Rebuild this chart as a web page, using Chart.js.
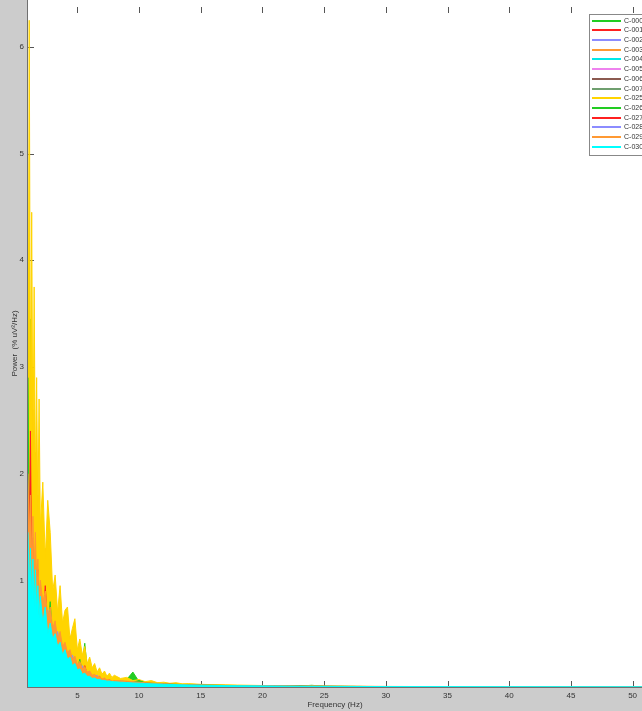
<!DOCTYPE html>
<html>
<head>
<meta charset="utf-8">
<script src="https://cdn.jsdelivr.net/npm/chart.js"></script>
<style>
  html, body { margin: 0; padding: 0; background: #cccccc; }
  canvas { display: block; }
</style>
</head>
<body>
<canvas id="myChart" width="642" height="711"></canvas>
<script>
// frequency bins (Hz) shared by every channel
var freqs = [1.0,1.1,1.2,1.3,1.4,1.5,1.6,1.7,1.8,1.9,2.0,
  2.2,2.4,2.6,2.8,3.0,3.2,3.4,3.6,3.8,4.0,
  4.2,4.4,4.6,4.8,5.0,5.2,5.4,5.6,5.8,6.0,
  6.2,6.4,6.6,6.8,7.0,7.2,7.4,7.6,7.8,8.0,
  8.5,9,9.5,10,10.5,11,11.5,12,12.5,13,13.5,14,
  15,16,17,18,19,20,21,22,23,24,25,
  30,40,50.8];

var xTicks = [5,10,15,20,25,30,35,40,45,50];
var yTicks = [1,2,3,4,5,6];

// power per channel
var c000 = [3.8,2.2,3.45,1.8,2.4,1.5,1.9,1.2,1.6,1.1,1.35,
  0.95,1.15,0.8,0.95,0.65,0.8,0.55,0.62,0.45,0.5,
  0.38,0.42,0.3,0.34,0.25,0.28,0.22,0.41,0.17,0.2,
  0.14,0.16,0.11,0.13,0.09,0.11,0.08,0.09,0.07,0.08,
  0.06,0.07,0.14,0.05,0.045,0.04,0.035,0.03,0.028,0.025,0.022,0.02,
  0.018,0.016,0.014,0.012,0.011,0.01,0.009,0.012,0.008,0.016,0.006,
  0.004,0.003,0.002];
var c001 = [1.9,1.4,2.2,2.85,1.6,2.1,1.3,1.7,1.1,1.4,1.0,
  1.2,0.85,1.0,0.7,0.8,0.55,0.65,0.45,0.5,0.36,
  0.42,0.3,0.33,0.24,0.27,0.19,0.22,0.15,0.17,0.12,
  0.14,0.1,0.11,0.08,0.09,0.07,0.08,0.06,0.07,0.055,
  0.06,0.045,0.05,0.04,0.035,0.038,0.03,0.028,0.025,0.022,0.02,0.018,
  0.016,0.014,0.013,0.012,0.01,0.009,0.008,0.007,0.007,0.006,0.005,
  0.004,0.003,0.002];
var c002 = [1.7,1.2,1.5,1.0,1.3,0.9,1.15,0.8,1.0,0.97,0.75,
  0.85,0.6,0.7,0.5,0.62,0.42,0.5,0.35,0.4,0.28,
  0.45,0.24,0.28,0.2,0.23,0.16,0.18,0.13,0.15,0.11,
  0.12,0.09,0.1,0.08,0.085,0.07,0.075,0.06,0.065,0.05,
  0.055,0.045,0.05,0.04,0.036,0.033,0.03,0.027,0.025,0.022,0.02,0.018,
  0.016,0.014,0.012,0.011,0.01,0.009,0.008,0.007,0.006,0.006,0.005,
  0.003,0.002,0.002];
var c003 = [2.3,1.8,2.0,1.5,2.6,1.7,2.2,1.4,1.8,1.2,1.5,
  1.1,1.3,0.9,1.05,0.75,0.85,0.6,0.7,0.5,0.58,
  0.42,0.48,0.35,0.4,0.28,0.32,0.23,0.26,0.18,0.21,
  0.15,0.17,0.12,0.14,0.1,0.12,0.09,0.1,0.075,0.085,
  0.07,0.06,0.055,0.05,0.045,0.04,0.036,0.033,0.03,0.027,0.025,0.022,
  0.02,0.018,0.016,0.014,0.013,0.012,0.011,0.01,0.009,0.008,0.007,
  0.005,0.003,0.002];
var c004 = [2.25,1.6,1.9,1.3,1.6,1.1,1.35,0.95,1.15,0.85,1.0,
  0.75,0.85,0.6,0.7,0.5,0.55,0.42,0.46,0.35,0.38,
  0.28,0.31,0.23,0.25,0.18,0.2,0.15,0.16,0.12,0.13,
  0.1,0.11,0.085,0.09,0.07,0.075,0.06,0.065,0.055,0.058,
  0.05,0.045,0.042,0.038,0.035,0.032,0.03,0.027,0.025,0.023,0.021,0.02,
  0.017,0.015,0.013,0.012,0.011,0.01,0.009,0.008,0.007,0.007,0.006,
  0.004,0.003,0.002];
var c005 = [1.3,1.0,1.2,0.85,1.05,0.8,0.95,0.7,0.85,0.6,0.8,
  0.55,0.95,0.5,0.6,0.4,0.5,0.35,0.42,0.3,0.34,
  0.25,0.28,0.2,0.23,0.16,0.19,0.13,0.15,0.11,0.12,
  0.09,0.1,0.08,0.085,0.065,0.07,0.055,0.06,0.05,0.052,
  0.045,0.05,0.04,0.06,0.035,0.03,0.028,0.025,0.023,0.02,0.019,0.017,
  0.015,0.013,0.012,0.011,0.01,0.009,0.008,0.007,0.006,0.006,0.005,
  0.003,0.002,0.002];
var c006 = [1.6,1.2,1.4,1.0,1.25,0.9,1.05,0.8,0.9,0.7,0.8,
  0.6,0.7,0.5,0.58,0.42,0.48,0.36,0.4,0.3,0.33,
  0.25,0.27,0.2,0.22,0.17,0.18,0.14,0.15,0.11,0.12,
  0.1,0.1,0.08,0.085,0.07,0.072,0.06,0.062,0.05,0.052,
  0.045,0.042,0.038,0.035,0.032,0.03,0.027,0.025,0.023,0.021,0.019,0.018,
  0.015,0.013,0.012,0.011,0.01,0.009,0.008,0.007,0.006,0.006,0.005,
  0.003,0.002,0.002];
var c007 = [1.8,1.3,1.55,1.1,1.35,0.95,1.1,0.85,0.95,0.72,0.82,
  0.62,0.72,0.52,0.6,0.44,0.5,0.37,0.42,0.32,0.35,
  0.26,0.29,0.21,0.24,0.18,0.19,0.15,0.16,0.12,0.13,
  0.1,0.11,0.085,0.09,0.07,0.075,0.06,0.065,0.052,0.055,
  0.047,0.043,0.04,0.036,0.033,0.03,0.028,0.026,0.024,0.022,0.02,0.018,
  0.016,0.014,0.012,0.011,0.01,0.009,0.008,0.007,0.007,0.006,0.005,
  0.004,0.003,0.002];
var c025 = [2.2,6.25,2.6,4.45,2.1,3.75,1.9,2.9,1.6,2.7,1.5,
  1.92,1.2,1.75,1.45,0.9,1.05,0.7,0.95,0.6,0.72,
  0.75,0.45,0.55,0.64,0.35,0.45,0.3,0.38,0.22,0.28,
  0.18,0.22,0.14,0.18,0.12,0.15,0.1,0.13,0.09,0.11,
  0.08,0.09,0.06,0.07,0.05,0.06,0.04,0.045,0.035,0.04,0.03,0.032,
  0.025,0.022,0.02,0.018,0.016,0.014,0.012,0.011,0.01,0.012,0.008,
  0.004,0.003,0.002];
var c026 = [2.9,1.3,1.5,1.0,1.3,0.85,1.1,0.8,1.0,0.65,0.8,
  0.6,0.7,0.5,0.8,0.42,0.48,0.35,0.4,0.3,0.33,
  0.25,0.27,0.2,0.22,0.16,0.26,0.14,0.15,0.11,0.12,
  0.09,0.1,0.08,0.085,0.065,0.07,0.055,0.06,0.05,0.052,
  0.055,0.05,0.045,0.06,0.04,0.035,0.032,0.03,0.027,0.025,0.022,0.02,
  0.018,0.016,0.014,0.012,0.011,0.01,0.009,0.008,0.012,0.007,0.006,
  0.004,0.003,0.002];
var c027 = [1.7,1.2,2.4,1.0,1.4,0.9,1.2,0.85,1.1,0.7,0.85,
  0.6,0.95,0.55,0.6,0.45,0.5,0.4,0.45,0.3,0.35,
  0.26,0.3,0.22,0.24,0.18,0.2,0.15,0.2,0.12,0.13,
  0.1,0.11,0.08,0.1,0.07,0.075,0.06,0.07,0.05,0.055,
  0.05,0.048,0.042,0.04,0.036,0.033,0.03,0.027,0.025,0.022,0.02,0.018,
  0.016,0.014,0.013,0.011,0.01,0.009,0.008,0.007,0.007,0.006,0.005,
  0.004,0.003,0.002];
var c028 = [1.5,1.1,1.3,0.9,1.15,0.8,1.0,0.72,0.88,0.62,0.75,
  0.55,0.65,0.72,0.54,0.4,0.45,0.52,0.37,0.28,0.31,
  0.23,0.26,0.3,0.21,0.16,0.17,0.2,0.14,0.1,0.11,
  0.09,0.095,0.11,0.08,0.065,0.068,0.055,0.058,0.048,0.05,
  0.043,0.04,0.036,0.033,0.03,0.028,0.026,0.024,0.022,0.02,0.018,0.017,
  0.015,0.013,0.012,0.011,0.01,0.009,0.008,0.007,0.006,0.006,0.005,
  0.003,0.002,0.002];
var c029 = [2.0,1.4,1.8,1.2,1.6,1.1,1.45,0.95,1.2,0.85,1.0,
  0.8,0.9,0.65,0.75,0.55,0.62,0.45,0.52,0.38,0.42,
  0.32,0.35,0.26,0.29,0.21,0.24,0.17,0.19,0.14,0.15,
  0.11,0.12,0.095,0.1,0.075,0.085,0.065,0.07,0.055,0.06,
  0.06,0.055,0.05,0.045,0.04,0.037,0.034,0.03,0.028,0.025,0.023,0.021,
  0.019,0.017,0.015,0.013,0.012,0.011,0.01,0.009,0.008,0.008,0.007,
  0.005,0.003,0.002];
var c030 = [1.45,0.9,1.3,0.8,1.2,0.75,1.1,0.7,0.95,0.65,0.85,
  0.6,0.75,0.5,0.6,0.45,0.5,0.38,0.42,0.3,0.35,
  0.26,0.28,0.2,0.22,0.16,0.17,0.12,0.13,0.1,0.1,
  0.08,0.085,0.07,0.072,0.06,0.062,0.055,0.056,0.05,0.05,
  0.045,0.042,0.038,0.036,0.033,0.03,0.028,0.026,0.024,0.022,0.02,0.019,
  0.017,0.015,0.013,0.012,0.011,0.01,0.009,0.008,0.007,0.007,0.006,
  0.004,0.003,0.002];

var names = ['C-000','C-001','C-002','C-003','C-004','C-005','C-006','C-007',
  'C-025','C-026','C-027','C-028','C-029','C-030'];
var series = [c000,c001,c002,c003,c004,c005,c006,c007,c025,c026,c027,c028,c029,c030];
var colors = ['#22cc22','#ff2020','#8c8cff','#ff9933','#00e8e8','#ee82ee','#8b5a50','#6f9f6f',
  '#ffd400','#22cc22','#ff2020','#8c8cff','#ff9933','#00ffff'];

var FONT = 'Liberation Sans';

// build datasets, last channel plotted on top (like matlab)
// the dense spectra look solid in the original, so each one is filled down to 0
var datasets = [];
for (var i = 0; i < names.length; i++) {
    var pts = [];
    for (var j = 0; j < freqs.length; j++) {
        pts.push({ x: freqs[j], y: series[i][j] });
    }
    datasets.push({
        label: names[i],
        data: pts,
        borderColor: colors[i],
        backgroundColor: colors[i],
        borderWidth: 1,
        pointRadius: 0,
        pointHoverRadius: 0,
        tension: 0,
        fill: 'origin',
        order: names.length - i
    });
}

// no extra space around the axes
function noPad(s) {
    s.paddingTop = 0;
    s.paddingBottom = 0;
    s.paddingLeft = 0;
    s.paddingRight = 0;
}

// gray figure background, axes and ticks under the data, legend box on top
var matlabLook = {
    id: 'matlabLook',
    beforeDraw: function(chart) {
        var ctx = chart.ctx, a = chart.chartArea;
        ctx.save();
        ctx.fillStyle = '#cccccc';
        ctx.fillRect(0, 0, chart.width, chart.height);
        ctx.fillStyle = '#ffffff';
        ctx.fillRect(a.left, a.top, a.right - a.left, a.bottom - a.top);
        ctx.restore();
    },
    beforeDatasetsDraw: function(chart) {
        var ctx = chart.ctx, a = chart.chartArea;
        var xs = chart.scales.x, ys = chart.scales.y;
        ctx.save();
        ctx.strokeStyle = '#707070';
        ctx.lineWidth = 1;
        ctx.beginPath();
        ctx.moveTo(a.left - 0.5, a.top);
        ctx.lineTo(a.left - 0.5, a.bottom + 1);
        ctx.moveTo(a.left, a.bottom + 0.5);
        ctx.lineTo(a.right, a.bottom + 0.5);
        ctx.stroke();

        ctx.strokeStyle = '#555555';
        ctx.beginPath();
        xTicks.forEach(function(v) {
            var px = Math.round(xs.getPixelForValue(v)) + 0.5;
            ctx.moveTo(px, a.bottom);
            ctx.lineTo(px, a.bottom - 6);
            ctx.moveTo(px, 7);
            ctx.lineTo(px, 13);
        });
        yTicks.forEach(function(v) {
            var py = Math.round(ys.getPixelForValue(v)) + 0.5;
            ctx.moveTo(a.left, py);
            ctx.lineTo(a.left + 6, py);
        });
        ctx.stroke();
        ctx.restore();
    },
    afterDraw: function(chart) {
        var ctx = chart.ctx;
        ctx.save();
        ctx.fillStyle = '#ffffff';
        ctx.fillRect(589.5, 14.5, 70, 141);
        ctx.strokeStyle = '#888888';
        ctx.lineWidth = 1;
        ctx.strokeRect(589.5, 14.5, 70, 141);
        ctx.font = '7px "' + FONT + '"';
        ctx.textBaseline = 'middle';
        for (var k = 0; k < names.length; k++) {
            var y = Math.round(20.7 + k * 9.69);
            ctx.strokeStyle = colors[k];
            ctx.lineWidth = 2;
            ctx.beginPath();
            ctx.moveTo(592, y);
            ctx.lineTo(621, y);
            ctx.stroke();
            ctx.fillStyle = '#333333';
            ctx.fillText(names[k], 624, y);
        }
        ctx.restore();
    }
};

var ctx = document.getElementById('myChart').getContext('2d');

var myChart = new Chart(ctx, {
    type: 'line',
    data: { datasets: datasets },
    options: {
        responsive: false,
        animation: false,
        devicePixelRatio: 1,
        layout: { padding: 0, autoPadding: false },
        plugins: {
            legend: { display: false },
            tooltip: { enabled: false }
        },
        scales: {
            x: {
                type: 'linear',
                min: 1,
                max: 50.76,
                grid: { display: false, drawTicks: false },
                border: { display: false },
                ticks: { color: '#333333', font: { family: FONT, size: 8 }, padding: 4, maxRotation: 0, autoSkip: false },
                afterBuildTicks: function(s) {
                    s.ticks = xTicks.map(function(v) { return { value: v }; });
                },
                afterFit: function(s) { s.height = 24; noPad(s); },
                title: {
                    display: true,
                    text: 'Frequency (Hz)',
                    color: '#333333',
                    font: { family: FONT, size: 8 },
                    padding: { top: 0, bottom: 1 }
                }
            },
            y: {
                min: 0,
                max: 6.44,
                grid: { display: false, drawTicks: false },
                border: { display: false },
                ticks: { color: '#333333', font: { family: FONT, size: 8 }, padding: 4, autoSkip: false },
                afterBuildTicks: function(s) {
                    s.ticks = yTicks.map(function(v) { return { value: v }; });
                },
                afterFit: function(s) { s.width = 28; noPad(s); },
                title: {
                    display: true,
                    text: 'Power  (% uV²/Hz)',
                    color: '#333333',
                    font: { family: FONT, size: 8 },
                    padding: { top: 10, bottom: 0 }
                }
            }
        }
    },
    plugins: [matlabLook]
});
</script>
</body>
</html>
